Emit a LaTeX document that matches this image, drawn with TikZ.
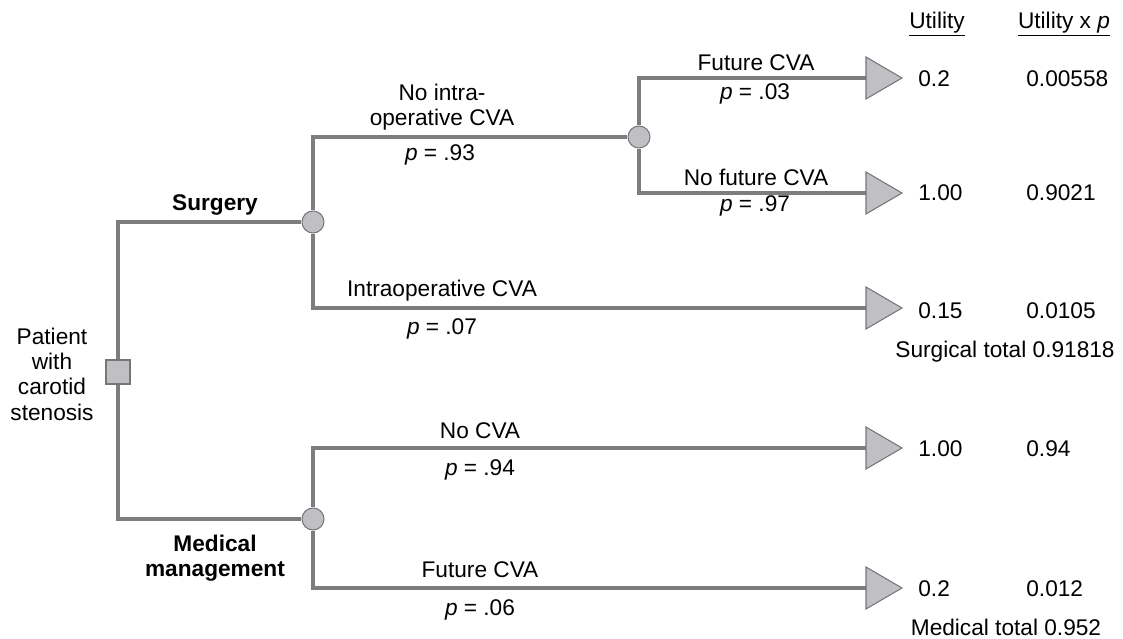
\documentclass[tikz,border=0pt]{standalone}
\usepackage{fontspec}
\setmainfont{Liberation Sans}
\usetikzlibrary{positioning}

\definecolor{branchgray}{RGB}{125,125,128}
\definecolor{nodefill}{RGB}{192,192,196}
\definecolor{nodeedge}{RGB}{118,118,122}

\tikzset{
  branch/.style={draw=branchgray, line width=1.9pt},
  chance/.style={circle, fill=nodefill, draw=nodeedge, line width=0.6pt,
    minimum size=0.44cm, inner sep=0pt},
  decision/.style={rectangle, fill=nodefill, draw=nodeedge, line width=0.6pt,
    minimum size=0.48cm, inner sep=0pt},
  outcome/.style={rectangle, minimum height=0.84cm, minimum width=0.72cm,
    inner sep=0pt, outer sep=0pt, anchor=west},
  tri/.style={fill=nodefill, draw=nodeedge, line width=0.6pt, line join=miter},
  lbl/.style={font=\fontsize{12.9}{14.4}\selectfont, inner sep=0pt,
    align=center, text depth=0pt},
  val/.style={lbl, anchor=west},
}

\begin{document}
\begin{tikzpicture}[x=0.02cm, y=-0.02cm]
    \useasboundingbox (0,0) rectangle (1123,639);

    % Decision and chance nodes
    \node[decision] (dec) at (118,372) {};
    \node[chance] (surg) at (313,222) {};
    \node[chance] (med) at (313,519) {};
    \node[chance] (noop) at (639,137) {};

    % Terminal nodes
    \node[outcome] (futA) at (866,78) {};
    \node[outcome] (nofutA) at (866,193) {};
    \node[outcome] (intraop) at (866,308) {};
    \node[outcome] (nocva) at (866,448) {};
    \node[outcome] (futB) at (866,588) {};

    % Branches
    \draw[branch] (dec) |- (surg);
    \draw[branch] (dec) |- (med);
    \draw[branch] (surg) |- (noop);
    \draw[branch] (surg) |- (intraop);
    \draw[branch] (noop) |- (futA);
    \draw[branch] (noop) |- (nofutA);
    \draw[branch] (med) |- (nocva);
    \draw[branch] (med) |- (futB);

    % Terminal triangles
    \foreach \t in {futA,nofutA,intraop,nocva,futB}
        \draw[tri] (\t.north west) -- (\t.east) -- (\t.south west) -- cycle;

    % Branch labels
    \node[lbl] (patient) at (52,374) {Patient\\with\\carotid\\stenosis};
    \node[lbl, font=\fontsize{12.9}{14.4}\selectfont\bfseries] (surgl) at (215,203) {Surgery};
    \node[lbl, font=\fontsize{12.9}{14.4}\selectfont\bfseries] (medl) at (215,556) {Medical\\management};
    \node[lbl] (noopl) at (442,105) {No intra-\\operative CVA};
    \node[lbl] (noopp) at (440,153) {\textit{p} = .93};
    \node[lbl] (intral) at (442,288) {Intraoperative CVA};
    \node[lbl] (intrap) at (442,327) {\textit{p} = .07};
    \node[lbl] (futAl) at (756,63) {Future CVA};
    \node[lbl] (futAp) at (755,92) {\textit{p} = .03};
    \node[lbl] (nofutAl) at (756,177) {No future CVA};
    \node[lbl] (nofutAp) at (755,204) {\textit{p} = .97};
    \node[lbl] (nocval) at (480,431) {No CVA};
    \node[lbl] (nocvap) at (480,468) {\textit{p} = .94};
    \node[lbl] (futBl) at (480,570) {Future CVA};
    \node[lbl] (futBp) at (480,608) {\textit{p} = .06};

    % Utility columns
    \node[lbl] (uhead) at (937,20) {\underline{Utility}};
    \node[lbl] (uphead) at (1064,20) {\underline{Utility x \textit{p}}};
    \node[val] (u1) at (918,79) {0.2};
    \node[val] (u2) at (918,193) {1.00};
    \node[val] (u3) at (918,311) {0.15};
    \node[val] (u4) at (918,449) {1.00};
    \node[val] (u5) at (918,589) {0.2};
    \node[val] (up1) at (1026,79) {0.00558};
    \node[val] (up2) at (1026,193) {0.9021};
    \node[val] (up3) at (1026,311) {0.0105};
    \node[val] (up4) at (1026,449) {0.94};
    \node[val] (up5) at (1026,589) {0.012};
    \node[lbl] (surgtot) at (1005,349) {Surgical total 0.91818};
    \node[lbl] (medtot) at (1006,627) {Medical total 0.952};
\end{tikzpicture}
\end{document}
